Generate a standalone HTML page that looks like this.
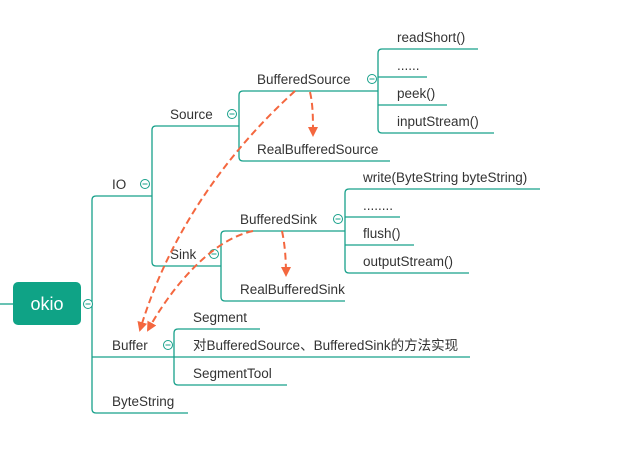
<!DOCTYPE html>
<html><head><meta charset="utf-8"><style>
html,body{margin:0;padding:0;background:#fff;width:639px;height:466px;overflow:hidden}
text{font-family:"Liberation Sans","Noto Sans CJK SC",sans-serif;font-size:13.5px;fill:#333}
</style></head><body>
<svg width="639" height="466" xmlns="http://www.w3.org/2000/svg">
<defs>
<marker id="ah" viewBox="0 0 10 10" refX="8" refY="5" markerWidth="5" markerHeight="5" orient="auto-start-reverse"><path d="M0,0 L10,5 L0,10 z" fill="#f4673f"/></marker>
</defs>
<g fill="none" stroke="#17a08a" stroke-width="1.3">
<path d="M0,304 H13"/>
<path d="M152,196 H96 Q92,196 92,200 V409 Q92,413 96,413 H188"/>
<path d="M92,357 H470"/>
<path d="M239,126 H156 Q152,126 152,130 V262 Q152,266 156,266 H221"/>
<path d="M378,91 H243 Q239,91 239,95 V157 Q239,161 243,161 H390"/>
<path d="M478,49 H382 Q378,49 378,53 V129 Q378,133 382,133 H494"/>
<path d="M378,77 H427 M378,105 H447"/>
<path d="M345,231 H225 Q221,231 221,235 V297 Q221,301 225,301 H345"/>
<path d="M540,189 H349 Q345,189 345,193 V269 Q345,273 349,273 H469"/>
<path d="M345,217 H400 M345,245 H414"/>
<path d="M260,329 H178 Q174,329 174,333 V381 Q174,385 178,385 H287"/>
<g fill="#fff" stroke-width="1">
<circle cx="88" cy="304" r="4.5"/><circle cx="145" cy="184" r="4.5"/>
<circle cx="232" cy="114" r="4.5"/><circle cx="214" cy="254" r="4.5"/>
<circle cx="372" cy="79" r="4.5"/><circle cx="338" cy="219" r="4.5"/>
<circle cx="168" cy="345" r="4.5"/>
</g>
<path d="M85.5,304 H90.5 M142.5,184 H147.5 M229.5,114 H234.5 M211.5,254 H216.5 M369.5,79 H374.5 M335.5,219 H340.5 M165.5,345 H170.5" stroke-width="1"/>
</g>
<rect x="13" y="282" width="68" height="43" rx="5" fill="#0fa386"/>
<text x="47" y="310" text-anchor="middle" style="font-size:18px;fill:#fff">okio</text>
<text x="112" y="189">IO</text>
<text x="170" y="119">Source</text>
<text x="170" y="259">Sink</text>
<text x="257" y="84">BufferedSource</text>
<text x="257" y="154">RealBufferedSource</text>
<text x="397" y="42">readShort()</text>
<text x="397" y="70">......</text>
<text x="397" y="98">peek()</text>
<text x="397" y="126">inputStream()</text>
<text x="240" y="224">BufferedSink</text>
<text x="240" y="294">RealBufferedSink</text>
<text x="363" y="182">write(ByteString byteString)</text>
<text x="363" y="210">........</text>
<text x="363" y="238">flush()</text>
<text x="363" y="266">outputStream()</text>
<text x="112" y="350">Buffer</text>
<text x="112" y="406">ByteString</text>
<text x="193" y="322">Segment</text>
<text x="193" y="350">对BufferedSource、BufferedSink的方法实现</text>
<text x="193" y="378">SegmentTool</text>
<g fill="none" stroke="#f4673f" stroke-width="2" stroke-dasharray="7,4">
<path d="M295,91 C230,150 170,230 140,330" marker-end="url(#ah)"/>
<path d="M310,92 C313,105 313,118 313,135" marker-end="url(#ah)"/>
<path d="M253,231 C210,240 170,290 148,330" marker-end="url(#ah)"/>
<path d="M282,231 C285,245 286,260 286,275" marker-end="url(#ah)"/>
</g>
</svg>
</body></html>
